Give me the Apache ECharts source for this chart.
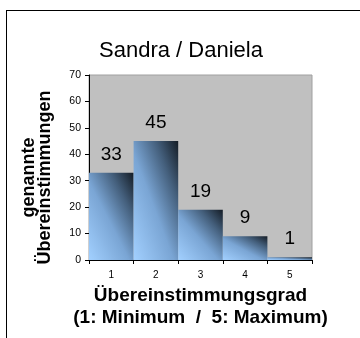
<!DOCTYPE html>
<html>
<head>
<meta charset="utf-8">
<script src="https://cdn.jsdelivr.net/npm/echarts@6/dist/echarts.min.js"></script>
<style>
  html, body { margin: 0; padding: 0; background: #fff; }
  #frame { position: absolute; left: 6px; top: 10px; width: 400px; height: 400px; border: 1px solid #000; }
  #chart { position: absolute; left: 0; top: 0; width: 360px; height: 338px; }
</style>
</head>
<body>
<div id="frame"></div>
<div id="chart"></div>
<script>
// Daten
const categories = ['1', '2', '3', '4', '5']
const values = [33, 45, 19, 9, 1]
const yTicks = [0, 10, 20, 30, 40, 50, 60, 70]

const font = 'Liberation Sans, Arial, sans-serif'

// Plotbereich (Pixel)
const plotLeft = 89
const plotRight = 312
const plotTop = 75
const plotBottom = 260

// Diagonaler Verlauf wie in Excel: hell unten links, dunkel oben rechts
function barGradient(v) {
  const w = (plotRight - plotLeft) / categories.length
  const h = Math.max(v * (plotBottom - plotTop) / yTicks[yTicks.length - 1], 1)
  const s = h * h + w * w
  return new echarts.graphic.LinearGradient(0, 1, 2 * h * h / s, 1 - 2 * w * w / s, [
    { offset: 0, color: '#a2d0ff' },
    { offset: 0.45, color: '#7aa5d4' },
    { offset: 0.75, color: '#445f7c' },
    { offset: 1, color: '#141c25' }
  ])
}

const chart = echarts.init(document.getElementById('chart'), null, { renderer: 'canvas' })

const option = {
  animation: false,
  title: {
    text: 'Sandra / Daniela',
    left: 94,
    top: 35,
    textStyle: { fontFamily: font, fontSize: 22, fontWeight: 'normal', color: '#000' }
  },
  grid: {
    left: plotLeft,
    right: 360 - plotRight,
    top: plotTop,
    bottom: 338 - plotBottom,
    show: true,
    backgroundColor: '#c0c0c0',
    borderColor: '#a0a0a0',
    borderWidth: 1
  },
  xAxis: {
    type: 'category',
    data: categories,
    name: 'Übereinstimmungsgrad\n(1: Minimum  /  5: Maximum)',
    nameLocation: 'middle',
    nameGap: 25,
    nameTextStyle: { fontFamily: font, fontSize: 19, fontWeight: 'bold', color: '#000', lineHeight: 22, verticalAlign: 'top' },
    axisLine: { lineStyle: { color: '#000', width: 1 } },
    axisTick: { show: true, length: 4, inside: false, lineStyle: { color: '#000' } },
    axisLabel: { fontFamily: font, fontSize: 10, color: '#000', margin: 10 }
  },
  yAxis: {
    type: 'value',
    min: yTicks[0],
    max: yTicks[yTicks.length - 1],
    interval: 10,
    name: 'genannte\nÜbereinstimmungen',
    nameLocation: 'middle',
    nameGap: 36,
    nameTextStyle: { fontFamily: font, fontSize: 18, fontWeight: 'bold', color: '#000', lineHeight: 16, padding: [0, 20, 0, 0] },
    axisLine: { show: true, lineStyle: { color: '#000', width: 1 } },
    axisTick: { show: true, length: 4, inside: false, lineStyle: { color: '#000' } },
    axisLabel: { fontFamily: font, fontSize: 10.5, color: '#000', margin: 8 },
    splitLine: { show: false }
  },
  series: [
    {
      type: 'bar',
      data: values.map(v => ({ value: v, itemStyle: { color: barGradient(v) } })),
      barCategoryGap: '0%',
      label: {
        show: true,
        position: 'top',
        distance: 9,
        fontFamily: font,
        fontSize: 19,
        color: '#000'
      }
    }
  ]
}

chart.setOption(option)
</script>
</body>
</html>
